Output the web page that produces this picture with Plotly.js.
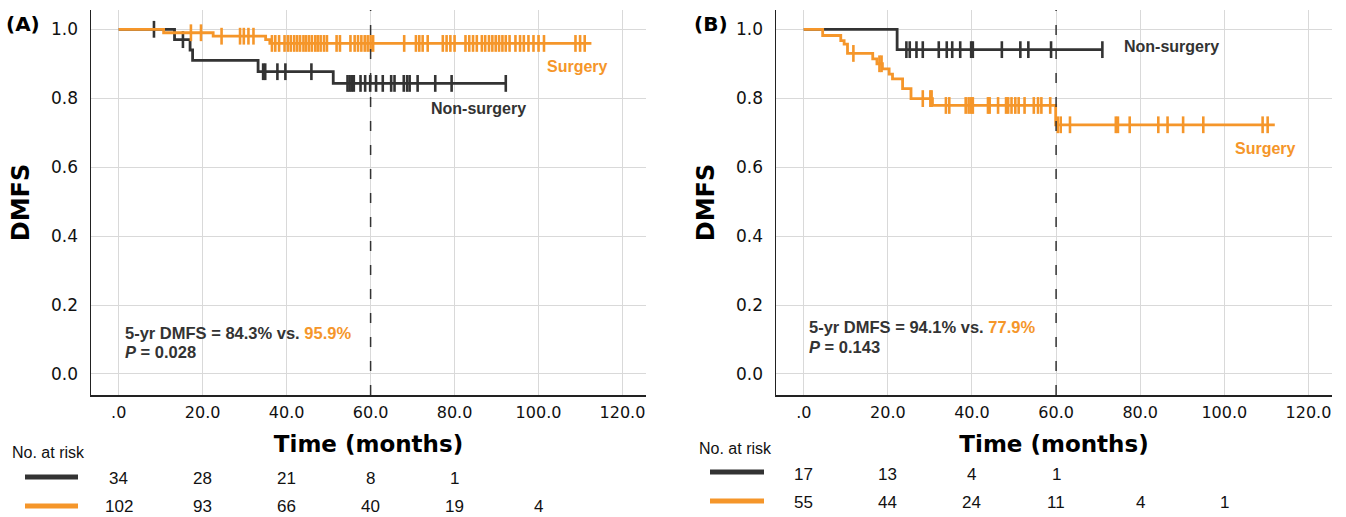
<!DOCTYPE html>
<html>
<head>
<meta charset="utf-8">
<script src="https://cdn.plot.ly/plotly-3.0.1.min.js"></script>
<style>html,body{margin:0;padding:0;background:#fff;}#chart{width:1346px;height:517px;}</style>
</head>
<body>
<div id="chart"></div>
<script>
// ---------- DATA ----------
const tickVals = [0, 20, 40, 60, 80, 100, 120];
const tickText = [".0", "20.0", "40.0", "60.0", "80.0", "100.0", "120.0"];
const yTickVals = [0, 0.2, 0.4, 0.6, 0.8, 1.0];
const yTickText = ["0.0", "0.2", "0.4", "0.6", "0.8", "1.0"];

// Panel A
const A_nonsurg_t = [0, 13.3, 17.0, 17.6, 33.2, 51.1, 92.2];
const A_nonsurg_s = [1.0, 0.970, 0.940, 0.910, 0.877, 0.843, 0.843];
const A_nonsurg_cens = [8.4, 15.3, 34.4, 34.9, 37.8, 39.7, 45.9, 54.5, 55.0, 55.5, 56.0, 57.6, 58.7, 59.9, 61.3, 62.9, 64.9, 65.7, 67.9, 68.7, 69.3, 71.2, 75.4, 79.3, 92.2];
const A_surg_t = [0, 10.7, 22.5, 35.0, 36.0, 112.6];
const A_surg_s = [1.0, 0.990, 0.980, 0.970, 0.959, 0.959];
const A_surg_cens = [17.2, 19.6, 24.5, 28.9, 29.8, 30.9, 32.1, 36.5, 37.3, 38.2, 39.5, 40.3, 41.0, 41.8, 42.5, 43.2, 44.0, 44.6, 45.3, 46.0, 46.8, 47.4, 48.1, 48.9, 49.6, 51.9, 52.7, 55.2, 56.2, 57.0, 57.8, 58.6, 59.3, 60.0, 60.6, 68.0, 70.8, 71.6, 72.4, 73.6, 77.2, 78.1, 79.0, 80.0, 82.6, 83.5, 84.4, 85.3, 86.5, 87.3, 88.2, 89.0, 89.8, 90.6, 91.4, 92.2, 93.1, 94.5, 95.6, 96.5, 97.6, 98.8, 100.0, 101.3, 108.8, 109.9, 111.0];
const A_risk_times = [0, 20, 40, 60, 80, 100];
const A_risk_nonsurg = [34, 28, 21, 8, 1];
const A_risk_surg = [102, 93, 66, 40, 19, 4];
const A_fiveyr = ["84.3%", "95.9%"];
const A_p = "0.028";

// Panel B
const B_nonsurg_t = [0, 22.2, 71.0];
const B_nonsurg_s = [1.0, 0.941, 0.941];
const B_nonsurg_cens = [24.4, 25.2, 26.8, 28.3, 32.1, 34.0, 35.3, 37.2, 39.8, 40.2, 47.1, 51.5, 53.4, 58.8, 71.0];
const B_surg_t = [0, 4.5, 8.8, 9.6, 10.4, 16.4, 17.4, 18.7, 20.3, 21.1, 23.5, 25.5, 30.6, 59.9, 112.0];
const B_surg_s = [1.0, 0.982, 0.967, 0.957, 0.930, 0.914, 0.900, 0.885, 0.870, 0.856, 0.828, 0.799, 0.779, 0.723, 0.723];
const B_surg_cens = [11.8, 18.0, 18.5, 28.3, 30.1, 30.4, 33.8, 34.6, 38.5, 39.2, 39.8, 40.2, 43.8, 44.2, 46.2, 48.1, 48.6, 49.4, 50.3, 51.1, 52.5, 54.7, 55.7, 56.5, 58.6, 60.4, 61.1, 63.3, 74.2, 74.7, 77.5, 84.3, 86.5, 90.2, 95.0, 109.1, 110.3];
const B_risk_times = [0, 20, 40, 60, 80, 100];
const B_risk_nonsurg = [17, 13, 4, 1];
const B_risk_surg = [55, 44, 24, 11, 4, 1];
const B_fiveyr = ["94.1%", "77.9%"];
const B_p = "0.143";

// ---------- STYLE ----------
const DARK = "#333333";
const ORANGE = "#F5962A";
const W = 1346, H = 517;
const py = v => (H - v) / H; // pixel row -> paper y
const px = v => v / W;

function stepAt(ts, ss, t) {
  let s = ss[0];
  for (let i = 0; i < ts.length; i++) { if (ts[i] <= t) s = ss[i]; }
  return s;
}
function kmTraces(ts, ss, cens, color, xa, ya) {
  return [
    {x: ts, y: ss, type: "scatter", mode: "lines", line: {shape: "hv", color: color, width: 2.8},
     xaxis: xa, yaxis: ya, hoverinfo: "skip", showlegend: false},
    {x: cens, y: cens.map(t => stepAt(ts, ss, t)), type: "scatter", mode: "markers",
     marker: {symbol: "line-ns", size: 12, line: {color: color, width: 2.6}, color: color},
     xaxis: xa, yaxis: ya, hoverinfo: "skip", showlegend: false}
  ];
}

const data = [
  ...kmTraces(A_nonsurg_t, A_nonsurg_s, A_nonsurg_cens, DARK, "x", "y"),
  ...kmTraces(A_surg_t, A_surg_s, A_surg_cens, ORANGE, "x", "y"),
  ...kmTraces(B_nonsurg_t, B_nonsurg_s, B_nonsurg_cens, DARK, "x2", "y2"),
  ...kmTraces(B_surg_t, B_surg_s, B_surg_cens, ORANGE, "x2", "y2")
];

const xRange = [-6.6, 125.6];
const yRange = [-0.061, 1.056];
const yDom = [py(395), py(10)];

function xAxis(dom, anchor) {
  return {domain: dom, anchor: anchor, range: xRange, tickvals: tickVals, ticktext: tickText,
    showgrid: true, gridcolor: "#d9d9d9", gridwidth: 1, zeroline: false,
    showline: true, linecolor: "#222", linewidth: 1.5, ticks: "", ticklabelstandoff: 2,
    tickfont: {family: "DejaVu Sans", size: 16, color: "#111"},
    title: {text: "<b>Time (months)</b>", font: {family: "DejaVu Sans", size: 23, color: "#000"}, standoff: 15}};
}
function yAxis(anchor) {
  return {domain: yDom, anchor: anchor, range: yRange, tickvals: yTickVals, ticktext: yTickText,
    showgrid: true, gridcolor: "#d9d9d9", gridwidth: 1, zeroline: false,
    showline: true, linecolor: "#222", linewidth: 1.5, ticks: "", ticklabelstandoff: 8,
    tickfont: {family: "DejaVu Sans", size: 17, color: "#111"},
    title: {text: "<b>DMFS</b>", font: {family: "DejaVu Sans", size: 24, color: "#000"}, standoff: 14}};
}

const annotations = [];
function txt(x, y, xref, yref, text, opts) {
  annotations.push(Object.assign({x: x, y: y, xref: xref, yref: yref, text: text, showarrow: false,
    font: {family: "Liberation Sans", size: 16, color: DARK}, xanchor: "center", yanchor: "middle"}, opts || {}));
}
// Panel labels
txt(px(23), py(24), "paper", "paper", "<b>(A)</b>", {font: {family: "DejaVu Sans", size: 20, color: "#000"}});
txt(px(711), py(24), "paper", "paper", "<b>(B)</b>", {font: {family: "DejaVu Sans", size: 20, color: "#000"}});
// Curve labels
txt(85.8, 0.769, "x", "y", "<b>Non-surgery</b>");
txt(109.4, 0.891, "x", "y", "<b>Surgery</b>", {font: {family: "Liberation Sans", size: 16, color: ORANGE}});
txt(87.5, 0.949, "x2", "y2", "<b>Non-surgery</b>");
txt(109.8, 0.655, "x2", "y2", "<b>Surgery</b>", {font: {family: "Liberation Sans", size: 16, color: ORANGE}});
// 5-yr text
const noteFont = {family: "Liberation Sans", size: 16.5, color: DARK};
txt(1.0, 0.119, "x", "y", "<b>5-yr DMFS = " + A_fiveyr[0] + " vs. <span style='color:" + ORANGE + "'>" + A_fiveyr[1] + "</span></b>", {xanchor: "left", font: noteFont});
txt(1.0, 0.064, "x", "y", "<b><i>P</i> = " + A_p + "</b>", {xanchor: "left", font: noteFont});
txt(0.8, 0.136, "x2", "y2", "<b>5-yr DMFS = " + B_fiveyr[0] + " vs. <span style='color:" + ORANGE + "'>" + B_fiveyr[1] + "</span></b>", {xanchor: "left", font: noteFont});
txt(0.8, 0.078, "x2", "y2", "<b><i>P</i> = " + B_p + "</b>", {xanchor: "left", font: noteFont});
// Risk table
const riskFont = {family: "Liberation Sans", size: 17, color: "#111"};
txt(px(10), py(452), "paper", "paper", "No. at risk", {xanchor: "left", font: {family: "Liberation Sans", size: 16, color: "#111"}});
txt(px(697), py(448), "paper", "paper", "No. at risk", {xanchor: "left", font: {family: "Liberation Sans", size: 16, color: "#111"}});
A_risk_nonsurg.forEach((n, i) => txt(A_risk_times[i], py(478), "x", "paper", String(n), {font: riskFont}));
A_risk_surg.forEach((n, i) => txt(A_risk_times[i], py(506), "x", "paper", String(n), {font: riskFont}));
B_risk_nonsurg.forEach((n, i) => txt(B_risk_times[i], py(474), "x2", "paper", String(n), {font: riskFont}));
B_risk_surg.forEach((n, i) => txt(B_risk_times[i], py(502), "x2", "paper", String(n), {font: riskFont}));

const shapes = [
  {type: "line", xref: "x", yref: "y domain", x0: 60, x1: 60, y0: 0, y1: 1, line: {color: DARK, width: 1.5, dash: "10px,14px"}},
  {type: "line", xref: "x2", yref: "y2 domain", x0: 60, x1: 60, y0: 0, y1: 1, line: {color: DARK, width: 1.5, dash: "10px,14px"}},
  {type: "line", xref: "paper", yref: "paper", x0: px(25), x1: px(78), y0: py(477), y1: py(477), line: {color: DARK, width: 5}},
  {type: "line", xref: "paper", yref: "paper", x0: px(25), x1: px(78), y0: py(506), y1: py(506), line: {color: ORANGE, width: 5}},
  {type: "line", xref: "paper", yref: "paper", x0: px(710), x1: px(764), y0: py(472), y1: py(472), line: {color: DARK, width: 5}},
  {type: "line", xref: "paper", yref: "paper", x0: px(710), x1: px(764), y0: py(501), y1: py(501), line: {color: ORANGE, width: 5}}
];

const layout = {
  width: W, height: H,
  margin: {l: 0, r: 0, t: 0, b: 0},
  paper_bgcolor: "#fff", plot_bgcolor: "#fff",
  showlegend: false,
  xaxis: xAxis([px(91), px(646)], "y"),
  yaxis: yAxis("x"),
  xaxis2: xAxis([px(776), px(1332)], "y2"),
  yaxis2: yAxis("x2"),
  annotations: annotations,
  shapes: shapes
};

Plotly.newPlot("chart", data, layout, {displayModeBar: false, staticPlot: true});
</script>
</body>
</html>
